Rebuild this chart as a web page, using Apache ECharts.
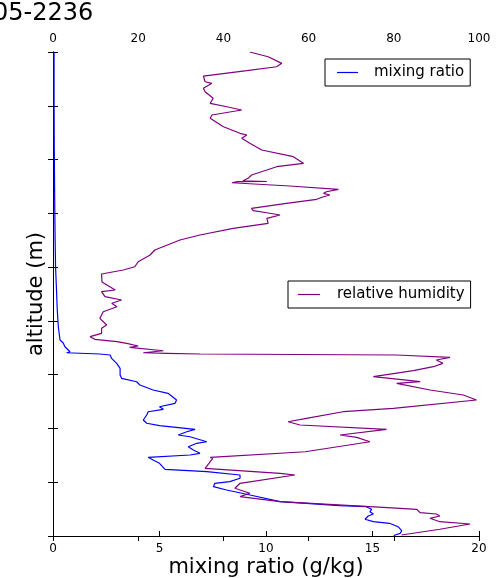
<!DOCTYPE html>
<html>
<head>
<meta charset="utf-8">
<script src="https://cdn.jsdelivr.net/npm/echarts@6/dist/echarts.min.js"></script>
<style>
html,body{margin:0;padding:0;background:#fff;}
#chart{width:499px;height:578px;}
</style>
</head>
<body>
<div id="chart"></div>
<script>
// ---- data ----
var titleText = "05-2236";
var bottomTicks = [0, 5, 10, 15, 20];
var topTicks = [0, 20, 40, 60, 80, 100];

// mixing ratio (g/kg) vs altitude (m)
var mrAlt = [9000,8107,7177,6248,5504,5002,4518,4202,3886,3644,3589,3520,3490,3427,3408,3384,3366,3304,3211,3118,
  2994,2932,2869,2808,2715,2653,2529,2467,2404,2356,2311,2250,2157,2096,2051,1984,1939,1878,1846,1753,
  1724,1660,1599,1538,1506,1463,1413,1352,1240,1196,1134,1073,1010,980,917,855,762,638,563,545,
  496,452,409,372,311,266,236,173,99,50,19,0];
var mrVal = [0.05,0.05,0.06,0.08,0.10,0.12,0.17,0.20,0.25,0.33,0.48,0.56,0.56,0.80,0.64,2.20,2.68,2.75,2.99,3.15,
  3.15,3.22,3.93,4.08,4.70,5.40,5.80,5.73,5.00,5.18,4.47,4.40,4.24,4.40,5.00,6.67,6.28,5.88,6.43,7.22,
  6.75,6.35,6.59,6.90,6.43,4.47,4.70,5.00,5.26,7.22,8.78,8.78,8.30,7.60,7.53,8.15,9.25,10.66,13.47,14.70,
  14.96,14.88,15.04,14.80,14.65,15.04,15.80,16.20,16.37,16.30,16.06,16.00];

// relative humidity (%) vs altitude (m)
var rhAlt = [9000,8912,8789,8726,8652,8553,8447,8417,8324,8261,8139,8046,7982,7921,7828,7767,7611,7488,7456,7395,
  7302,7177,7053,6930,6867,6805,6712,6651,6606,6592,6588,6569,6508,6447,6402,6372,6341,6309,6261,6186,
  6093,6049,6011,5969,5907,5814,5721,5597,5504,5318,5225,5100,5007,4946,4872,4723,4574,4543,4450,4388,
  4327,4264,4171,4048,3923,3862,3769,3706,3657,3613,3583,3533,3509,3445,3408,3397,3384,3366,3323,3273,
  3211,3148,3074,2962,2869,2839,2715,2622,2529,2374,2311,2188,2125,2064,1984,1878,1835,1753,1567,1463,
  1445,1259,1227,1166,1134,980,887,794,731,638,534,496,433,409,372,329,266,223,186,125,19];
var rhVal = [46.2,50.5,53.7,52.5,45.5,35.3,35.7,37.3,35.3,35.7,37.6,36.9,40.8,44.3,37.3,36.9,40.0,43.9,45.5,44.3,
  46.2,49.0,56.4,58.8,52.5,50.2,46.6,45.8,44.6,50.2,43.3,42.0,55.6,67.0,64.2,63.5,65.0,63.5,61.9,54.8,
  46.6,47.0,50.2,53.3,50.2,50.5,42.3,34.5,29.8,23.9,22.8,20.0,19.2,16.5,11.4,11.5,14.6,11.4,12.2,16.1,
  13.8,15.0,11.8,11.0,12.6,11.4,11.4,8.7,9.8,15.0,17.3,20.0,18.0,25.9,21.2,26.7,34.5,80.7,93.2,90.0,
  91.5,89.3,84.6,75.2,86.2,80.7,88.5,96.3,99.4,79.9,68.1,59.5,55.2,58.0,78.3,67.4,71.3,74.4,59.2,36.9,
  37.5,35.7,35.3,53.3,56.8,43.9,42.7,46.2,43.9,53.3,77.5,85.4,86.2,90.0,90.8,88.5,90.8,97.9,98.3,90.8,81.8];

function pairs(xs, ys){ return xs.map(function(v,i){ return [v, ys[i]]; }); }

var FONT = "DejaVu Sans";
var axisLineStyle = {color:'#000', width:1};
var chart = echarts.init(document.getElementById('chart'), null, {renderer:'canvas'});
chart.setOption({
  animation:false,
  backgroundColor:'#fff',
  title:{text:titleText, left:-7, top:2, padding:0,
    textStyle:{fontFamily:FONT, fontSize:24, fontWeight:'normal', color:'#000'}},
  grid:{left:53, right:20, top:52, bottom:42, containLabel:false, outerBoundsMode:'none'},
  legend:[
    {data:['mixing ratio'], left:325, top:59, orient:'horizontal',
     borderColor:'#000', borderWidth:1, borderRadius:0, padding:[6,6,6,12],
     icon:'rect', itemWidth:21, itemHeight:1.2, selectedMode:false,
     textStyle:{fontFamily:FONT, fontSize:15, color:'#000', padding:[0,0,0,11]}},
    {data:['relative humidity'], left:288, top:281, orient:'horizontal',
     borderColor:'#000', borderWidth:1, borderRadius:0, padding:[6,6,6,10],
     icon:'rect', itemWidth:22, itemHeight:1.2, selectedMode:false,
     textStyle:{fontFamily:FONT, fontSize:15, color:'#000', padding:[0,0,0,12]}}
  ],
  xAxis:[
    {type:'value', position:'bottom', min:bottomTicks[0], max:bottomTicks[bottomTicks.length-1], interval:5,
     axisLine:{show:true, lineStyle:axisLineStyle},
     axisTick:{show:true, inside:true, length:5, lineStyle:{color:'#000'}},
     axisLabel:{fontFamily:FONT, fontSize:12, color:'#000', margin:7},
     splitLine:{show:false},
     name:'mixing ratio (g/kg)', nameLocation:'middle', nameGap:21, nameMoveOverlap:false,
     nameTextStyle:{fontFamily:FONT, fontSize:21, color:'#000'}},
    {type:'value', position:'top', min:topTicks[0], max:topTicks[topTicks.length-1], interval:20,
     axisLine:{show:true, lineStyle:axisLineStyle},
     axisTick:{show:true, inside:true, length:5, lineStyle:{color:'#000'}},
     axisLabel:{fontFamily:FONT, fontSize:12, color:'#000', margin:7},
     splitLine:{show:false}}
  ],
  yAxis:[
    {type:'value', position:'left', min:0, max:9000, interval:1000,
     axisLine:{show:true, lineStyle:axisLineStyle},
     axisTick:{show:true, inside:true, length:5, lineStyle:{color:'#000'}},
     axisLabel:{show:false}, splitLine:{show:false},
     name:'altitude (m)', nameLocation:'middle', nameGap:6, nameRotate:90, nameMoveOverlap:false,
     nameTextStyle:{fontFamily:FONT, fontSize:21, color:'#000'}},
    {type:'value', position:'right', min:0, max:9000, interval:1000,
     axisLine:{show:true, lineStyle:axisLineStyle},
     axisTick:{show:true, inside:true, length:5, lineStyle:{color:'#000'}},
     axisLabel:{show:false}, splitLine:{show:false}}
  ],
  series:[
    {type:'line', name:'mixing ratio', xAxisIndex:0, yAxisIndex:0, data:pairs(mrVal, mrAlt),
     symbol:'none', lineStyle:{color:'#0000ff', width:1.2}, itemStyle:{color:'#0000ff'}},
    {type:'line', name:'relative humidity', xAxisIndex:1, yAxisIndex:0, data:pairs(rhVal, rhAlt),
     symbol:'none', lineStyle:{color:'#800080', width:1.2}, itemStyle:{color:'#800080'}}
  ]
});
</script>
</body>
</html>
